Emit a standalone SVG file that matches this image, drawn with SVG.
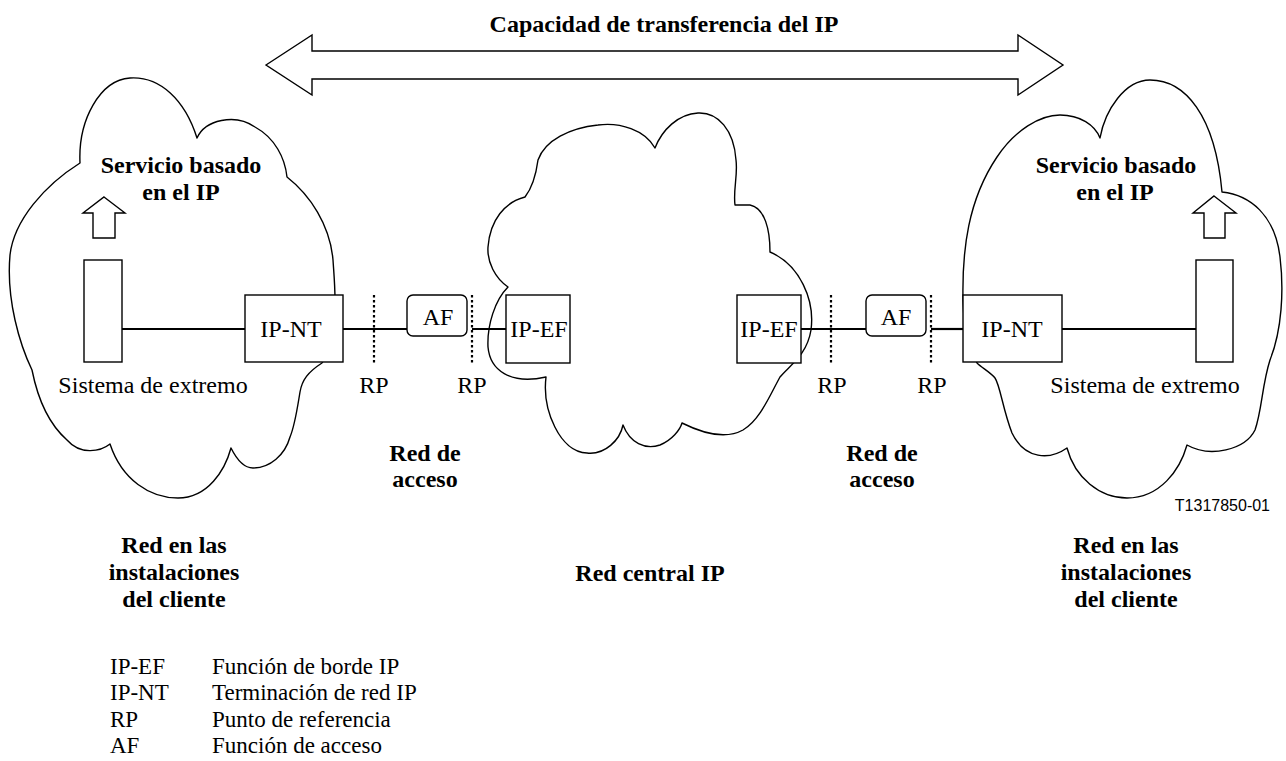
<svg xmlns="http://www.w3.org/2000/svg" width="1286" height="761" viewBox="0 0 1286 761">
<style>
.cl{fill:none;stroke:#000;stroke-width:1.4;stroke-linejoin:round}
.bx{fill:#fff;stroke:#000;stroke-width:1.4}
.ar{fill:#fff;stroke:#000;stroke-width:1.4;stroke-linejoin:miter}
.ln{stroke:#000;stroke-width:2.2;fill:none}
.dt{stroke:#000;stroke-width:2.2;stroke-dasharray:2.5 2.5;fill:none}
.b{font-family:"Liberation Serif",serif;font-weight:bold;font-size:24px;text-anchor:middle;fill:#000}
.r{font-family:"Liberation Serif",serif;font-size:24px;text-anchor:middle;fill:#000}
.lg{font-family:"Liberation Serif",serif;font-size:23px;fill:#000}
.t{font-family:"Liberation Sans",sans-serif;font-size:16px;fill:#000}
</style>
<rect width="1286" height="761" fill="#fff"/>

<g id="transfer-capacity">
<polygon class="ar" points="266,65 312,35 312,51 1018,51 1018,35 1063,65 1018,95 1018,79 312,79 312,95"/>
<text class="b" x="664" y="32">Capacidad de transferencia del IP</text>
</g>

<g id="cloud-left">
<path class="cl" d="M80,163 C78,120 100,80 130,78 C160,76 185,100 197,138 C205,120 235,113 255,127 C275,138 285,158 287,177 C310,195 330,225 333,260 C334,275 335,285 335,300 L330,350 L322,363 C308,372 302,380 300,392 C297,410 295,425 290,437 C285,455 270,468 253,468 C243,468 236,458 231,448 C225,470 208,498 178,498 C150,498 122,480 110,444 C100,452 80,455 67,440 C50,425 38,400 32,370 C20,345 6,300 10,255 C14,220 45,185 80,163 Z"/>
<text class="b" x="181" y="173">Servicio basado</text>
<text class="b" x="181" y="200">en el IP</text>
<polygon class="ar" points="104,197 125,213 115,213 115,238 93,238 93,213 83,213"/>
<text class="r" x="153" y="393">Sistema de extremo</text>
<text class="b" x="174" y="553">Red en las</text>
<text class="b" x="174" y="580">instalaciones</text>
<text class="b" x="174" y="607">del cliente</text>
</g>

<g id="cloud-center">
<path class="cl" d="M538,160 C536,175 532,188 525,197 C505,202 490,220 488,247 C487,262 495,278 508,287 C495,300 487,325 488,347 C490,370 510,385 546,377 C542,410 560,452 587,453 C605,455 620,440 623,425 C630,443 645,450 660,445 C672,440 680,430 682,423 C700,432 725,440 743,430 C760,420 770,395 780,377 C790,365 807,355 811,330 C815,300 800,265 770,252 C770,230 765,208 750,205 L735,205 C733,190 738,175 736,160 C734,130 718,112 698,113 C678,114 662,130 655,148 C645,130 620,122 598,125 C570,128 545,140 538,160 Z"/>
<text class="b" x="650" y="581">Red central IP</text>
</g>

<g id="cloud-right">
<path class="cl" d="M963,300 C962,250 968,200 997,157 C1015,130 1040,115 1060,115 C1080,115 1095,125 1100,138 C1105,110 1125,80 1150,80 C1185,80 1215,115 1222,192 C1250,195 1275,215 1280,257 C1284,290 1282,330 1270,360 C1262,385 1262,410 1255,430 C1245,450 1210,458 1187,445 C1180,470 1160,498 1127,498 C1100,498 1075,478 1067,448 C1050,460 1025,460 1012,433 C1003,410 1000,385 995,378 C990,372 982,368 977,363 L965,340 Z"/>
<text class="b" x="1116" y="173">Servicio basado</text>
<text class="b" x="1115" y="200">en el IP</text>
<polygon class="ar" points="1214,196 1236,213 1225,213 1225,238 1204,238 1204,213 1193,213"/>
<text class="r" x="1145" y="393">Sistema de extremo</text>
<text class="b" x="1126" y="553">Red en las</text>
<text class="b" x="1126" y="580">instalaciones</text>
<text class="b" x="1126" y="607">del cliente</text>
</g>

<g id="connectors">
<line class="ln" x1="122" y1="329" x2="245" y2="329"/>
<line class="ln" x1="343" y1="329" x2="407" y2="329"/>
<line class="ln" x1="472" y1="329" x2="506" y2="329"/>
<line class="ln" x1="801" y1="329" x2="866" y2="329"/>
<line class="ln" x1="931" y1="329" x2="963" y2="329"/>
<line class="ln" x1="1062" y1="329" x2="1196" y2="329"/>
</g>

<g id="end-system-left"><rect class="bx" x="84" y="260" width="38" height="102"/></g>
<g id="ip-nt-left"><rect class="bx" x="245" y="295" width="98" height="67"/><text class="r" x="291" y="337">IP-NT</text></g>
<g id="af-left"><rect class="bx" x="407" y="295" width="60" height="41" rx="6"/><text class="r" x="438" y="325">AF</text></g>
<g id="ip-ef-left"><rect class="bx" x="506" y="295" width="64" height="68"/><text class="r" x="539" y="337">IP-EF</text></g>
<g id="ip-ef-right"><rect class="bx" x="737" y="295" width="64" height="68"/><text class="r" x="769" y="337">IP-EF</text></g>
<g id="af-right"><rect class="bx" x="866" y="295" width="60" height="41" rx="6"/><text class="r" x="896" y="325">AF</text></g>
<g id="ip-nt-right"><rect class="bx" x="963" y="295" width="99" height="67"/><text class="r" x="1012" y="337">IP-NT</text></g>
<g id="end-system-right"><rect class="bx" x="1196" y="260" width="37" height="102"/></g>

<g id="rp-lines">
<line class="dt" x1="374" y1="295" x2="374" y2="363"/>
<line class="dt" x1="472" y1="295" x2="472" y2="363"/>
<line class="dt" x1="831" y1="295" x2="831" y2="363"/>
<line class="dt" x1="931" y1="295" x2="931" y2="363"/>
<text class="r" x="374" y="393">RP</text>
<text class="r" x="472" y="393">RP</text>
<text class="r" x="832" y="393">RP</text>
<text class="r" x="932" y="393">RP</text>
</g>

<g id="access-labels">
<text class="b" x="425" y="461">Red de</text>
<text class="b" x="425" y="487">acceso</text>
<text class="b" x="882" y="461">Red de</text>
<text class="b" x="882" y="487">acceso</text>
</g>

<text class="t" x="1270" y="511" text-anchor="end">T1317850-01</text>

<g id="legend">
<text class="lg" x="110" y="674">IP-EF</text><text class="lg" x="212" y="674">Función de borde IP</text>
<text class="lg" x="110" y="700">IP-NT</text><text class="lg" x="212" y="700">Terminación de red IP</text>
<text class="lg" x="110" y="727">RP</text><text class="lg" x="212" y="727">Punto de referencia</text>
<text class="lg" x="110" y="753">AF</text><text class="lg" x="212" y="753">Función de acceso</text>
</g>
</svg>
